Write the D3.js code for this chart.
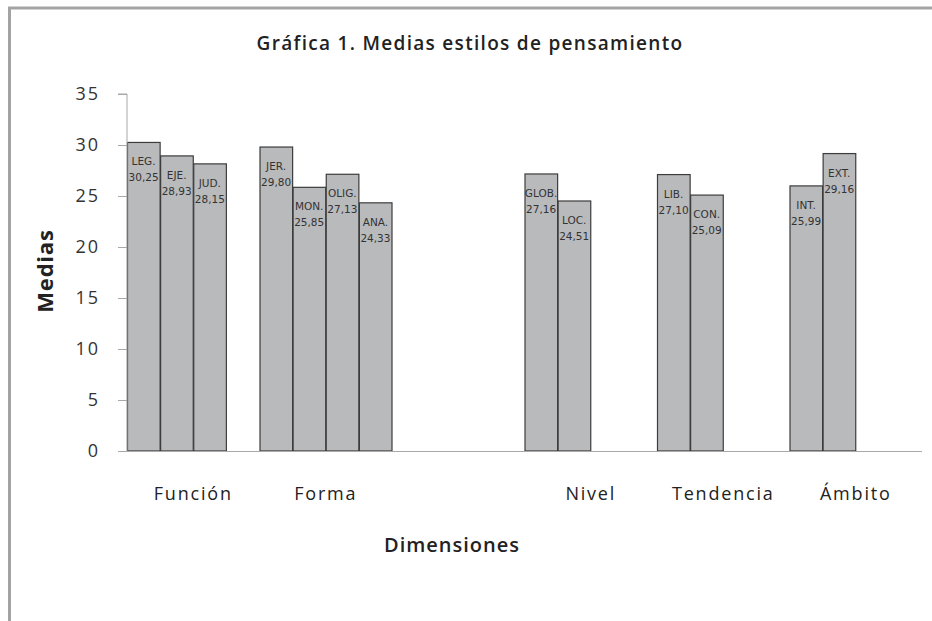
<!DOCTYPE html>
<html>
<head>
<meta charset="utf-8">
<script src="https://cdn.jsdelivr.net/npm/d3@7"></script>
<style>
  body { margin: 0; background: #fff; }
  svg { display: block; font-family: "Open Sans", sans-serif; }
</style>
</head>
<body>
<svg id="chart"></svg>
<script>
// datos de la gráfica
const categories = ["Función", "Forma", "", "Nivel", "Tendencia", "Ámbito"];
const styleNames = [
  ["LEG.", "EJE.", "JUD."],
  ["JER.", "MON.", "OLIG.", "ANA."],
  [],
  ["GLOB.", "LOC."],
  ["LIB.", "CON."],
  ["INT.", "EXT."]
];
const medias = [
  [30.25, 28.93, 28.15],
  [29.80, 25.85, 27.13, 24.33],
  [],
  [27.16, 24.51],
  [27.10, 25.09],
  [25.99, 29.16]
];
const yTicks = [0, 5, 10, 15, 20, 25, 30, 35];

const width = 932, height = 621;
const margin = { top: 94, right: 10, bottom: 170, left: 127 };

const svg = d3.select("#chart")
  .attr("width", width)
  .attr("height", height);

// marco exterior (solo arriba e izquierda visibles)
svg.append("path")
  .attr("d", `M9.5,${height} V8 H${width}`)
  .attr("fill", "none")
  .attr("stroke", "#a3a3a3")
  .attr("stroke-width", 3);

const locale = d3.formatLocale({ decimal: ",", thousands: ".", grouping: [3], currency: ["", "€"] });
const fmt = locale.format(".2f");

const x = d3.scaleBand()
  .domain(d3.range(categories.length))
  .range([margin.left, width - margin.right])
  .paddingInner(0).paddingOuter(0);

const xInner = d3.scaleBand()
  .domain([0, 1, 2, 3])
  .range([0, x.bandwidth()])
  .padding(0);

const y = d3.scaleLinear()
  .domain([0, 35])
  .range([height - margin.bottom, margin.top]);

// barras
const bars = [];
medias.forEach((vals, ci) => {
  vals.forEach((v, si) => bars.push({ cat: ci, idx: si, value: v, name: styleNames[ci][si] }));
});

const g = svg.append("g");
g.selectAll("rect")
  .data(bars)
  .join("rect")
  .attr("x", d => x(d.cat) + xInner(d.idx) + 0.5)
  .attr("y", d => y(d.value))
  .attr("width", xInner.bandwidth() - 0.5)
  .attr("height", d => y(0) - y(d.value))
  .attr("fill", "#b9babc")
  .attr("stroke", "#3c3c3c")
  .attr("stroke-width", 1.2);

const labels = g.selectAll("text.lab")
  .data(bars)
  .join("text")
  .attr("class", "lab")
  .attr("text-anchor", "middle")
  .attr("font-family", "DejaVu Sans, sans-serif")
  .attr("font-size", 10.5)
  .attr("fill", "#333");
labels.append("tspan")
  .attr("x", d => x(d.cat) + xInner(d.idx) + xInner.bandwidth() / 2)
  .attr("y", d => y(d.value) + 23)
  .text(d => d.name);
labels.append("tspan")
  .attr("x", d => x(d.cat) + xInner(d.idx) + xInner.bandwidth() / 2)
  .attr("y", d => y(d.value) + 39)
  .text(d => fmt(d.value));

// eje y
const yAxis = svg.append("g")
  .attr("transform", `translate(${margin.left},0)`)
  .call(d3.axisLeft(y).tickValues(yTicks).tickSize(9).tickPadding(18).tickFormat(d3.format("d")));
yAxis.selectAll("line, path").attr("stroke", "#a8a8a8");
yAxis.select(".domain").attr("d", `M-9,${y(35)}H0V${y(0)}`);
yAxis.selectAll("text")
  .attr("font-family", "Open Sans, sans-serif")
  .attr("font-size", 18)
  .attr("letter-spacing", 2)
  .attr("fill", "#333");

// eje x
svg.append("line")
  .attr("x1", margin.left).attr("x2", width - margin.right)
  .attr("y1", y(0) + 0.5).attr("y2", y(0) + 0.5)
  .attr("stroke", "#a8a8a8");

svg.append("g")
  .selectAll("text")
  .data(categories)
  .join("text")
  .attr("x", (d, i) => x(i) + x.bandwidth() / 2)
  .attr("y", y(0) + 49)
  .attr("text-anchor", "middle")
  .attr("font-size", 18)
  .attr("letter-spacing", 1.8)
  .attr("fill", "#222")
  .text(d => d);

// títulos
svg.append("text")
  .attr("x", 470).attr("y", 50)
  .attr("text-anchor", "middle")
  .attr("font-size", 19)
  .attr("font-weight", 600)
  .attr("letter-spacing", 1.3)
  .attr("fill", "#222")
  .text("Gráfica 1. Medias estilos de pensamiento");

svg.append("text")
  .attr("x", 452).attr("y", 552)
  .attr("text-anchor", "middle")
  .attr("font-size", 20)
  .attr("font-weight", 600)
  .attr("letter-spacing", 1)
  .attr("fill", "#222")
  .text("Dimensiones");

svg.append("text")
  .attr("transform", "translate(53,271) rotate(-90)")
  .attr("text-anchor", "middle")
  .attr("font-size", 22)
  .attr("font-weight", "bold")
  .attr("letter-spacing", 0.8)
  .attr("fill", "#222")
  .text("Medias");
</script>
</body>
</html>
